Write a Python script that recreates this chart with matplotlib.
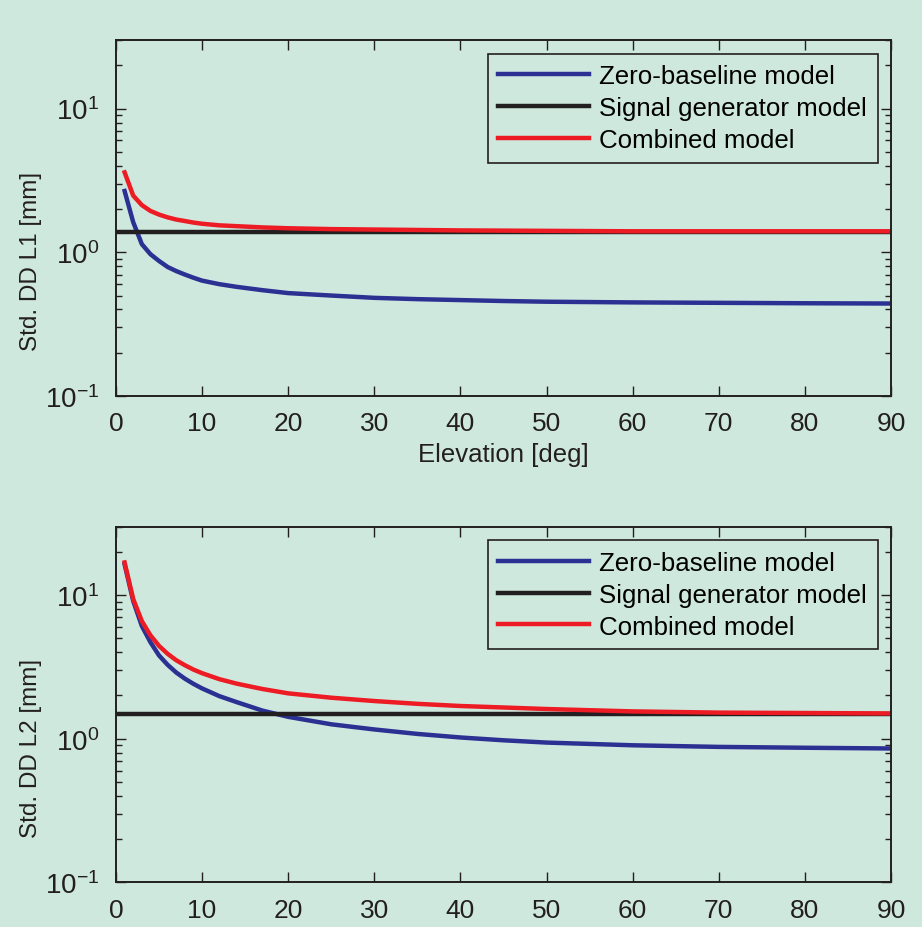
import numpy as np
import matplotlib
matplotlib.use('Agg')
import matplotlib.pyplot as plt
from matplotlib.ticker import LogLocator, FixedLocator

plt.rcParams['font.family'] = ['Liberation Sans', 'DejaVu Sans']
plt.rcParams['mathtext.fontset'] = 'custom'
plt.rcParams['mathtext.rm'] = 'Liberation Sans'
plt.rcParams['mathtext.it'] = 'Liberation Sans'

elev = [1, 2, 3, 4, 5, 6, 7, 8, 9, 10, 12, 14, 17, 20, 25, 30, 35, 40, 45, 50,
        60, 70, 80, 90]

# L1 [mm]
zb_l1 = [2.67, 1.62, 1.14, 0.97, 0.87, 0.79, 0.74, 0.70, 0.665, 0.635, 0.60,
         0.575, 0.545, 0.52, 0.50, 0.482, 0.472, 0.465, 0.458, 0.453,
         0.448, 0.445, 0.442, 0.44]
sg_l1 = 1.39
comb_l1 = [3.6, 2.48, 2.13, 1.94, 1.83, 1.75, 1.69, 1.65, 1.61, 1.58, 1.54,
           1.52, 1.49, 1.47, 1.45, 1.44, 1.43, 1.42, 1.415, 1.41,
           1.40, 1.40, 1.40, 1.40]

# L2 [mm]
zb_l2 = [16.4, 9.1, 6.1, 4.7, 3.8, 3.27, 2.89, 2.62, 2.41, 2.24, 1.98, 1.80,
         1.57, 1.42, 1.26, 1.16, 1.08, 1.02, 0.975, 0.94, 0.90, 0.877,
         0.865, 0.855]
sg_l2 = 1.49
comb_l2 = [16.9, 9.4, 6.6, 5.25, 4.43, 3.9, 3.52, 3.25, 3.03, 2.86, 2.6, 2.42,
           2.22, 2.07, 1.93, 1.83, 1.75, 1.69, 1.65, 1.61, 1.55, 1.52,
           1.51, 1.50]

labels = ['Zero-baseline model', 'Signal generator model', 'Combined model']
colors = ['#2b3192', '#231f20', '#ed1c24']
bg = '#cfe8de'

fig = plt.figure(figsize=(9.22, 9.28), dpi=100, facecolor=bg)
ax1 = fig.add_axes([0.1258, 0.5722, 0.8406, 0.3836])
ax2 = fig.add_axes([0.1258, 0.0482, 0.8406, 0.3832])


def panel(ax, zb, sg, comb, ylab):
    ax.set_facecolor(bg)
    ax.semilogy(elev, zb, color=colors[0], lw=3.2, label=labels[0])
    ax.semilogy([0, 90], [sg, sg], color=colors[1], lw=3.2, label=labels[1])
    ax.semilogy(elev, comb, color=colors[2], lw=3.2, label=labels[2])
    ax.set_xlim(0, 90)
    ax.set_ylim(0.1, 30)
    ax.xaxis.set_major_locator(FixedLocator(np.arange(0, 91, 10)))
    ax.yaxis.set_major_locator(LogLocator(base=10, numticks=10))
    ax.yaxis.set_minor_locator(LogLocator(base=10, subs=np.arange(2, 10), numticks=10))
    ax.tick_params(which='both', direction='in', top=True, right=True,
                   colors='#231f20', width=1.0)
    ax.tick_params(which='major', length=7)
    ax.tick_params(which='minor', length=4)
    ax.tick_params(axis='x', labelsize=19, pad=11)
    ax.tick_params(axis='y', labelsize=20, pad=12)
    for s in ax.spines.values():
        s.set_linewidth(1.4)
        s.set_color('#231f20')
    ax.set_ylabel(ylab, fontsize=17.5, color='#231f20')
    ax.yaxis.set_label_coords(-0.095, 0.38)
    ax.set_xlabel('Elevation [deg]', fontsize=18.5, color='#231f20', labelpad=5)
    leg = ax.legend(loc='upper right', bbox_to_anchor=(0.983, 0.962),
                    borderaxespad=0, fontsize=18.6, fancybox=False,
                    edgecolor='#231f20', facecolor=bg, framealpha=1,
                    handlelength=3.5, handletextpad=0.4, labelspacing=0.3,
                    borderpad=0.42)
    leg.get_frame().set_linewidth(1.2)


panel(ax1, zb_l1, sg_l1, comb_l1, 'Std. DD L1 [mm]')
panel(ax2, zb_l2, sg_l2, comb_l2, 'Std. DD L2 [mm]')

fig.savefig('out.png', dpi=100, facecolor=bg)
